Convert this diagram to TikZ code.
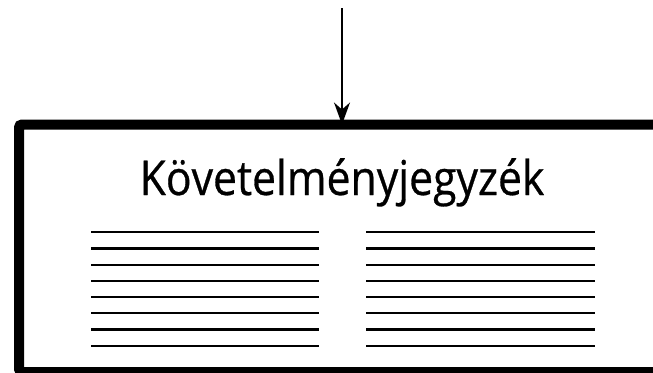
\documentclass[tikz,border=0pt]{standalone}
\usepackage{fontspec}
\setmainfont{Open Sans}
\newfontfamily\titlefont[FakeStretch=0.89, FakeBold=0.6]{Open Sans}
\usetikzlibrary{arrows.meta}
\begin{document}
\begin{tikzpicture}[x=1pt,y=-1pt,
  rule/.style={line width=2.2pt},
  frame/.style={draw, line width=10pt, rounded corners=3pt, minimum width=661pt, minimum height=247.5pt, inner sep=0pt, outer sep=0pt, anchor=north west},
  feed/.style={line width=1.5pt, -{Stealth[length=22pt, width=16pt, inset=7pt]}}]
\useasboundingbox (0,0) rectangle (653,372);
\clip (0,0) rectangle (653,372);
\node[frame] (box) at (19,124.5) {};
\coordinate (top) at (342,8);
\draw[feed] (top) -- (top |- box.north);
\node[anchor=base, inner sep=0pt, font=\titlefont\fontsize{48}{52}\selectfont] (title) at (342,195) {Követelményjegyzék};
\foreach \i in {0,...,7}{
  \draw[rule] (91,{232.3+16.2*\i}) -- (319,{232.3+16.2*\i});
  \draw[rule] (366,{232.3+16.2*\i}) -- (595,{232.3+16.2*\i});
}
\end{tikzpicture}
\end{document}
